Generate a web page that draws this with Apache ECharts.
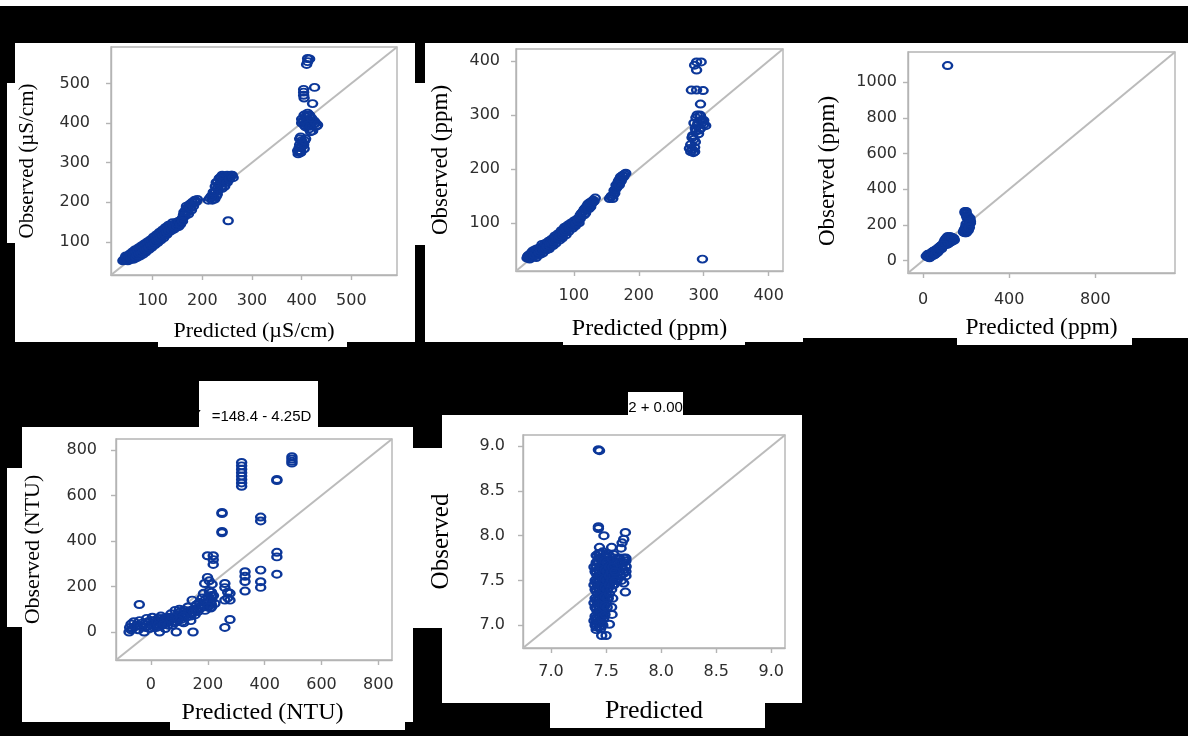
<!DOCTYPE html>
<html><head><meta charset="utf-8">
<script src="https://cdn.jsdelivr.net/npm/echarts@6/dist/echarts.min.js"></script>
<style>html,body{margin:0;padding:0;background:#000;}#c{width:1188px;height:736px;}</style>
</head><body><div id="c"></div>
<script>
// ---- Panel 1: conductivity (µS/cm) [predicted, observed]
const condTicks = [100, 200, 300, 400, 500];
const condPoints = [
  [42,55],[45,60],[48,53],[50,65],[52,58],[55,70],[55,55],[58,62],[60,75],[62,56],[65,68],[65,80],[68,60],[70,72],
  [72,85],[74,64],[76,78],[78,90],[80,68],[82,82],[84,95],[86,74],[88,88],[90,100],[92,80],[94,92],[96,105],[98,86],
  [100,98],[102,112],[104,92],[106,104],[108,118],[110,98],[112,110],[114,124],[116,104],[118,116],[120,130],[122,110],
  [124,122],[126,136],[128,118],[130,128],[132,142],[135,126],[138,136],[140,148],[143,132],[146,142],[150,150],[152,138],
  [155,148],[158,155],
  [40,52],[44,56],[46,64],[50,52],[53,62],[56,66],[57,58],[60,60],[61,68],[63,72],[66,62],[67,74],[69,66],[71,78],
  [73,70],[75,82],[77,72],[79,84],[81,76],[83,88],[85,80],[87,92],[89,82],[91,96],[93,86],[95,98],[97,92],[99,104],
  [101,94],[103,106],[105,98],[107,110],[109,104],[111,116],[113,106],[115,118],[117,110],[119,122],[121,116],[123,128],
  [125,118],[127,130],[129,124],[131,136],[133,128],[136,140],[139,130],[141,142],[144,138],[147,148],[149,140],[153,152],[156,144],
  [160,160],[165,175],[170,185],[175,195],[180,200],[185,205],[190,207],[168,190],[172,170],[178,180],[162,168],
  [163,175],[167,182],[170,175],[173,190],[176,185],[179,195],[182,190],[186,200],[188,202],[165,165],[160,152],
  [212,205],[220,205],[225,208],[230,220],[232,230],[238,240],[240,250],[245,255],[242,265],[250,268],[258,268],[235,245],
  [228,215],[248,260],[236,262],
  [215,210],[222,212],[226,225],[230,235],[234,245],[238,255],[244,262],[252,262],[255,265],[240,235],[246,250],
  [218,215],[222,225],[226,240],[230,250],[234,260],[240,268],[228,250],[245,240],[250,250],[255,258],[260,268],[262,262],
  [252,153],
  [398,365],[400,355],[396,345],[395,338],[392,330],[398,325],[405,335],[402,350],[408,360],[393,322],
  [398,330],[400,340],[404,345],[394,326],[396,360],[406,355],
  [405,420],[410,415],[412,408],[415,400],[420,405],[425,398],[430,392],[405,395],[408,390],[415,385],[422,380],[400,400],
  [412,425],[418,378],
  [400,410],[402,405],[408,400],[412,395],[418,392],[425,405],[428,400],[410,420],[416,420],[420,412],[432,395],
  [404,485],[404,478],[404,470],[405,463],[426,490],[422,449],
  [412,563],[416,562],[410,548],[412,555]
];
// ---- Panel 2: ppm
const tdsTicks = [100, 200, 300, 400];
const tdsPoints = [
  [28,35],[30,40],[32,33],[35,45],[38,38],[40,50],[42,36],[45,48],[48,42],[50,55],[52,44],[55,58],[58,50],[60,62],
  [62,52],[65,66],[68,58],[70,72],[72,62],[75,76],[78,68],[80,82],[82,72],[85,88],[88,78],[90,94],[92,84],[95,98],
  [98,90],[100,102],[102,94],[105,106],[108,100],[110,108],
  [29,38],[31,36],[33,42],[34,37],[36,43],[37,48],[39,41],[41,45],[43,52],[44,40],[46,53],[47,45],[49,49],[51,60],
  [53,50],[54,54],[56,62],[57,53],[59,56],[61,66],[63,58],[64,62],[66,70],[67,62],[69,66],[71,76],[73,68],[74,72],
  [76,80],[77,72],[79,76],[81,86],[83,78],[84,82],[86,92],[87,84],[89,88],[91,96],[93,90],[94,92],[96,100],[97,94],
  [99,98],[101,104],[103,98],[104,100],[106,108],[107,104],[109,110],
  [110,115],[115,122],[118,128],[120,130],[122,135],[125,138],[128,140],[130,142],[133,146],[118,118],[126,130],
  [112,118],[114,120],[116,125],[119,125],[121,132],[124,134],[127,136],[129,138],[131,140],[116,115],[123,126],
  [155,145],[160,145],[158,150],[162,160],[165,170],[168,175],[170,180],[172,185],[175,188],[178,190],[180,192],[166,165],[163,155],
  [157,148],[161,152],[164,162],[167,168],[169,178],[171,175],[174,182],[177,186],[173,178],[170,170],
  [282,258],[285,255],[280,245],[278,238],[280,232],[284,230],[286,240],
  [290,300],[295,298],[298,290],[285,285],[290,280],[295,275],[300,282],[303,280],[288,270],[292,265],[296,290],
  [287,275],[291,285],[293,272],[297,285],[283,262],[287,250],[282,236],[286,232],[288,295],[294,300],[300,290],
  [295,320],[281,346],[289,346],[299,345],
  [289,398],[296,398],[289,383],[286,392],
  [298,33]
];
// ---- Panel 3: ppm
const p3XTicks = [0, 400, 800];
const p3YTicks = [0, 200, 400, 600, 800, 1000];
const p3Points = [
  [20,20],[25,30],[30,25],[35,40],[40,35],[45,50],[50,45],[55,55],[60,50],[65,65],[70,60],[75,75],[80,70],[85,85],
  [90,80],[30,15],[50,30],[65,45],
  [15,25],[22,35],[28,20],[32,35],[38,30],[42,45],[48,40],[52,55],[58,45],[62,58],[68,55],[72,70],[78,65],[82,80],
  [88,75],[92,90],[95,85],[40,25],[55,35],[70,50],[85,65],[60,40],
  [100,100],[105,110],[110,115],[115,120],[120,125],[125,130],[130,125],[135,115],[125,105],[118,95],[110,90],[140,120],[108,125],
  [98,105],[102,115],[108,120],[112,110],[118,128],[122,120],[128,125],[132,130],[138,110],[142,125],[145,115],[130,105],
  [120,100],[105,95],[95,90],[115,135],[125,135],[135,130],
  [195,268],[200,262],[205,240],[210,228],[215,215],[200,205],[198,190],[192,175],[188,160],[195,155],[205,165],[212,195],
  [218,235],[202,250],
  [190,165],[195,170],[200,180],[205,190],[210,200],[215,205],[220,220],[215,240],[210,245],[205,255],[200,275],[195,275],
  [190,160],[200,155],[210,170],[220,210],[215,185],
  [114,1094]
];
// ---- Panel 4: NTU
const ntuTicks = [0, 200, 400, 600, 800];
const ntuPoints = [
  [-77,0],[-24,0],[30,0],[89,0],[148,0],[-41,121],
  [-75,20],[-70,35],[-60,45],[-65,15],[-50,30],[-40,50],[-30,40],[-20,20],[-15,60],[-10,45],[0,30],[5,65],[10,50],
  [15,35],[20,20],[25,60],[30,45],[35,70],[40,30],[45,55],[50,15],[55,40],[60,65],[65,50],[70,80],[75,30],[80,60],
  [85,95],[90,45],[95,75],[100,100],[105,55],[110,80],[115,40],[120,95],[125,65],[130,110],[135,80],[140,50],[145,140],
  [150,100],[155,75],[160,120],[165,90],[170,130],[175,105],[180,150],[185,170],[190,95],[195,130],[200,155],[205,180],
  [210,105],[220,160],[225,125],[142,96],
  [-70,10],[-55,25],[-45,10],[-35,25],[-25,35],[-5,15],[0,50],[10,20],[20,45],[25,30],[40,60],[45,35],[55,60],[60,30],
  [70,55],[80,40],[90,70],[100,60],[110,45],[120,75],[130,90],[140,70],[150,85],[160,95],[170,110],[180,120],[190,140],
  [200,125],[105,90],[115,70],[95,55],[75,65],
  [213,175],[213,160],[213,140],[213,120],[213,110],[200,110],[189,213],[199,240],[205,225],[215,210],
  [199,335],[219,335],[219,297],[219,318],
  [250,525],[250,520],[250,442],[250,436],
  [260,213],[260,195],[278,170],[260,140],[278,140],[270,175],[270,150],[278,55],[260,20],
  [331,265],[331,245],[331,222],[331,180],
  [319,745],[319,730],[319,715],[319,700],[319,685],[319,670],[319,655],[319,640],
  [386,505],[386,488],[386,272],[386,221],[386,196],
  [443,670],[443,665],[443,350],[443,330],[443,254],
  [496,770],[496,760],[496,750],[496,742]
];
// ---- Panel 5: pH
const phTicks = [7.0, 7.5, 8.0, 8.5, 9.0];
const phPoints = [
  [7.43,8.96],[7.44,8.95],[7.43,8.10],[7.43,8.08],[7.48,8.0],
  [7.675,8.036],[7.66,7.96],[7.645,7.92],[7.636,7.86],[7.44,7.87],[7.55,7.87],[7.57,7.79],[7.57,7.71],
  [7.68,7.75],[7.68,7.66],[7.68,7.60],[7.66,7.47],[7.675,7.37],
  [7.554,7.12],[7.53,7.01],[7.41,6.98],[7.46,6.885],[7.50,6.885],
  [7.40,7.0],[7.40,7.1],[7.40,7.2],[7.40,7.3],[7.40,7.4],[7.40,7.5],[7.40,7.6],[7.41,7.65],[7.41,7.05],[7.42,7.15],
  [7.42,7.25],[7.42,7.35],[7.42,7.45],[7.42,7.55],[7.43,7.7],[7.43,7.8],[7.44,6.98],[7.44,7.1],[7.44,7.2],[7.44,7.3],
  [7.44,7.4],[7.44,7.5],[7.44,7.6],[7.45,7.75],[7.46,7.02],[7.46,7.12],[7.46,7.22],[7.46,7.32],[7.46,7.42],[7.46,7.52],
  [7.46,7.62],[7.46,7.72],[7.47,7.82],[7.48,7.08],[7.48,7.18],[7.48,7.28],[7.48,7.38],[7.48,7.48],[7.48,7.58],[7.48,7.68],
  [7.49,7.78],[7.50,7.25],[7.50,7.35],[7.50,7.45],[7.50,7.55],[7.50,7.65],[7.51,7.75],[7.52,7.3],[7.52,7.42],[7.52,7.52],
  [7.52,7.62],[7.53,7.72],[7.54,7.48],[7.54,7.58],[7.55,7.68],[7.56,7.55],[7.57,7.62],[7.58,7.7],[7.60,7.62],[7.62,7.6],
  [7.64,7.65],[7.66,7.7],[7.68,7.72],[7.62,7.75],[7.66,7.62],[7.68,7.55],[7.64,7.5],
  [7.41,6.95],[7.41,7.08],[7.41,7.18],[7.41,7.28],[7.41,7.38],[7.41,7.48],[7.41,7.58],[7.41,7.7],[7.41,7.78],
  [7.43,7.02],[7.43,7.12],[7.43,7.22],[7.43,7.32],[7.43,7.42],[7.43,7.52],[7.43,7.62],[7.43,7.75],
  [7.45,6.96],[7.45,7.05],[7.45,7.15],[7.45,7.25],[7.45,7.35],[7.45,7.45],[7.45,7.55],[7.45,7.65],[7.45,7.8],
  [7.47,7.0],[7.47,7.1],[7.47,7.2],[7.47,7.3],[7.47,7.4],[7.47,7.5],[7.47,7.6],[7.47,7.7],
  [7.49,7.12],[7.49,7.22],[7.49,7.32],[7.49,7.42],[7.49,7.52],[7.49,7.62],[7.49,7.72],
  [7.51,7.2],[7.51,7.3],[7.51,7.4],[7.51,7.5],[7.51,7.6],[7.51,7.7],[7.51,7.8],
  [7.53,7.35],[7.53,7.45],[7.53,7.55],[7.53,7.65],[7.53,7.78],
  [7.55,7.4],[7.55,7.5],[7.55,7.6],[7.55,7.75],[7.55,7.2],
  [7.57,7.45],[7.57,7.55],[7.57,7.68],[7.60,7.5],[7.60,7.7],[7.60,7.75],[7.63,7.55],[7.63,7.7],[7.66,7.58],[7.66,7.75],[7.68,7.65],
  [7.39,7.05],[7.39,7.25],[7.39,7.45],[7.39,7.65],[7.56,7.3],[7.56,7.45],[7.56,7.65],[7.58,7.5],[7.58,7.6]
];

const panels = [
  {grid:{left:111,top:47,width:286,height:228}, range:[16,592], xt:condTicks, yt:condTicks, data:condPoints,
   xName:'Predicted (µS/cm)', yName:'Observed (µS/cm)', xfs:22, yfs:21, xGap:45, yGap:73, xm:18, ym:21, dec:0, xPad:0, yPad:0},
  {grid:{left:516,top:49,width:267,height:222}, range:[11,422], xt:tdsTicks, yt:tdsTicks, data:tdsPoints,
   xName:'Predicted (ppm)', yName:'Observed (ppm)', xfs:24, yfs:23, xGap:46, yGap:64, xm:17, ym:16, dec:0, xPad:0, yPad:0},
  {grid:{left:908,top:52,width:267,height:221}, range:[-70,1170], xt:p3XTicks, yt:p3YTicks, data:p3Points,
   xName:'Predicted (ppm)', yName:'Observed (ppm)', xfs:23.5, yfs:23, xGap:43, yGap:69, xm:19, ym:11, dec:0, xPad:0, yPad:17},
  {grid:{left:116,top:439,width:276,height:221}, range:[-123,848], xt:ntuTicks, yt:ntuTicks, data:ntuPoints,
   xName:'Predicted (NTU)', yName:'Observed (NTU)', xfs:24, yfs:22, xGap:41, yGap:72, xm:17, ym:19, dec:0, xPad:17, yPad:0},
  {grid:{left:523,top:435,width:262,height:213}, range:[6.745,9.125], xt:phTicks, yt:phTicks, data:phPoints,
   xName:'Predicted', yName:'Observed', xfs:26, yfs:25, xGap:50, yGap:69, xm:16, ym:18, dec:1, xPad:0, yPad:0}
];

const whiteRects = [
  [0,0,1188,6],[15,43,400,299],[7,83,8,160],[158,342,189,5],[415,83,10,162],[425,43,378,299],[563,342,182,3],
  [803,43,385,295],[957,338,175,7],[22,427,391,295],[7,468,15,159],[199,381,119,46],[170,722,235,8],
  [413,448,29,180],[442,415,360,288],[628,392,55,41],[550,703,215,25]
];

const gray = '#b4b4b4';
const blue = '#0c3799';
const grids = [], xAxes = [], yAxes = [], series = [];
panels.forEach((p, i) => {
  grids.push(Object.assign({show:true, borderColor:gray, borderWidth:1.4, backgroundColor:'#fff', containLabel:false}, p.grid));
  const fmt = v => Number(v).toFixed(p.dec);
  const axBase = (ticks, margin) => ({
    type:'value', gridIndex:i, min:p.range[0], max:p.range[1], splitLine:{show:false},
    axisLine:{show:true, onZero:false, lineStyle:{color:gray, width:1.4}},
    axisTick:{show:true, length:5, lineStyle:{color:gray, width:1.4}, customValues:ticks},
    axisLabel:{customValues:ticks, formatter:fmt, margin:margin, color:'#2e2e2e', fontFamily:'DejaVu Sans', fontSize:16},
    nameLocation:'middle'
  });
  xAxes.push(Object.assign(axBase(p.xt, p.xm), {position:'bottom', name:p.xName, nameGap:p.xGap,
    nameTextStyle:{fontFamily:'Liberation Serif', fontSize:p.xfs, color:'#000', padding:[0,0,0,p.xPad]}}));
  yAxes.push(Object.assign(axBase(p.yt, p.ym), {position:'left', name:p.yName, nameGap:p.yGap,
    nameTextStyle:{fontFamily:'Liberation Serif', fontSize:p.yfs, color:'#000', padding:[0,p.yPad,0,0]}}));
  series.push({type:'line', xAxisIndex:i, yAxisIndex:i, data:[[p.range[0],p.range[0]],[p.range[1],p.range[1]]],
    symbol:'none', silent:true, lineStyle:{color:'#bbbbbb', width:2}, z:1, animation:false});
  series.push({type:'scatter', xAxisIndex:i, yAxisIndex:i, data:p.data, symbol:'circle', symbolSize:[9,7],
    itemStyle:{color:'rgba(0,0,0,0)', borderColor:blue, borderWidth:2.2, opacity:1}, z:3, animation:false});
});

const graphic = whiteRects.map(r => ({type:'rect', z:-10, silent:true, shape:{x:r[0], y:r[1], width:r[2], height:r[3]}, style:{fill:'#fff'}}));
graphic.push({type:'text', z:10, x:261.5, y:416.5, style:{text:'=148.4 - 4.25D', fontFamily:'Liberation Sans', fontSize:15, fill:'#000', align:'center', verticalAlign:'middle'}});
graphic.push({type:'text', z:10, x:201, y:416, style:{text:'Y', fontFamily:'Liberation Sans', fontSize:15, fill:'#000', align:'right', verticalAlign:'middle'}});
graphic.push({type:'text', z:10, x:655.5, y:408, style:{text:'2 + 0.00', fontFamily:'Liberation Sans', fontSize:15, fill:'#000', align:'center', verticalAlign:'middle'}});

const chart = echarts.init(document.getElementById('c'));
chart.setOption({
  backgroundColor:'#000', animation:false,
  grid:grids, xAxis:xAxes, yAxis:yAxes, series:series, graphic:graphic
});
</script></body></html>
